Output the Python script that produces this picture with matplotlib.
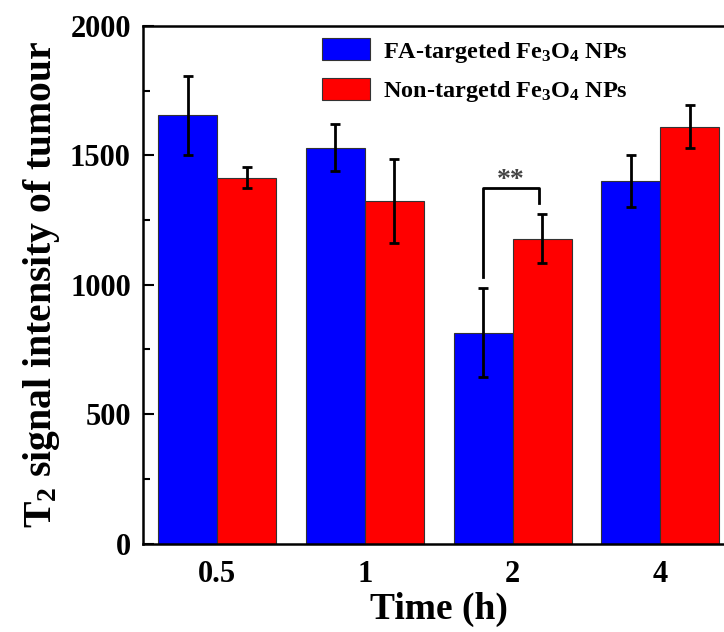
import matplotlib
matplotlib.use("Agg")
import matplotlib.pyplot as plt
import numpy as np

plt.rcParams['font.family'] = ['Liberation Serif', 'DejaVu Serif']
plt.rcParams['font.weight'] = 'bold'
plt.rcParams['axes.labelweight'] = 'bold'
plt.rcParams['mathtext.fontset'] = 'custom'
plt.rcParams['mathtext.rm'] = 'Liberation Serif:bold'
plt.rcParams['mathtext.bf'] = 'Liberation Serif:bold'
plt.rcParams['mathtext.it'] = 'Liberation Serif:bold'
plt.rcParams['mathtext.default'] = 'rm'

times = ['0.5', '1', '2', '4']
fa_mean = [1655, 1530, 815, 1400]
fa_err = [152, 92, 173, 100]
non_mean = [1413, 1324, 1178, 1611]
non_err = [41, 161, 94, 84]


def graph():
    fig = plt.figure(figsize=(7.24, 6.32), dpi=100)
    ax = fig.add_axes([0.198, 0.140, 0.816, 0.819])

    x = np.arange(len(times))
    w = 0.4
    err_kw = dict(ecolor='black', elinewidth=2, capsize=3.5, capthick=2)
    ax.bar(x - w / 2, fa_mean, w, yerr=fa_err, color='#0000ff',
           edgecolor='#333333', linewidth=0.8, error_kw=err_kw,
           label=r'FA-targeted Fe$_3$O$_4$ NPs')
    ax.bar(x + w / 2, non_mean, w, yerr=non_err, color='#ff0000',
           edgecolor='#333333', linewidth=0.8, error_kw=err_kw,
           label=r'Non-targetd Fe$_3$O$_4$ NPs')

    # significance bracket at 2 h
    bx0, bx1 = 2 - w / 2, 2 + w / 2 - 0.02
    ax.plot([bx0, bx0, bx1, bx1], [1028, 1372, 1372, 1317],
            color='black', lw=2)
    ax.text(1.99, 1355, '**', ha='center', va='bottom', fontsize=20,
            color='#444444')

    ax.set_xlim(-0.5, 3.5)
    ax.set_ylim(0, 2000)
    ax.set_xticks(x)
    ax.set_xticklabels(times)
    ax.set_yticks([0, 500, 1000, 1500, 2000])
    ax.set_yticks([250, 750, 1250, 1750], minor=True)
    ax.tick_params(axis='y', which='major', direction='in', length=8,
                   width=1.5, labelsize=22, pad=9)
    ax.tick_params(axis='y', which='minor', direction='in', length=5,
                   width=1.5)
    ax.tick_params(axis='x', length=0, labelsize=22, pad=12)
    for s in ax.spines.values():
        s.set_linewidth(1.8)

    ax.set_xlabel('Time (h)', fontsize=27, labelpad=2)
    ax.set_ylabel(r'T$_2$ signal intensity of tumour', fontsize=28.5,
                  labelpad=6)

    ax.legend(loc='upper left', bbox_to_anchor=(0.265, 1.018), frameon=False,
              fontsize=17.5, handlelength=2.0, handleheight=1.0,
              handletextpad=0.5, labelspacing=0.55)

    fig.savefig('out.png', dpi=100)


def main():
    graph()


if __name__ == "__main__":
    main()
